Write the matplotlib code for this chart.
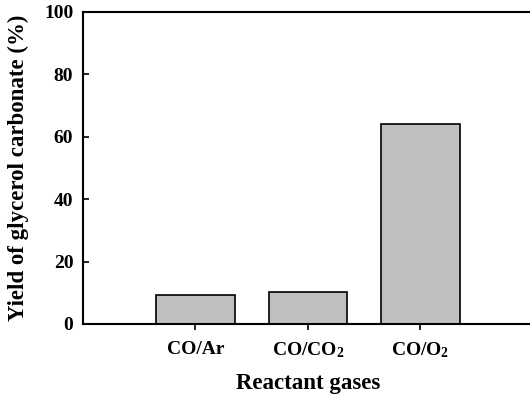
import matplotlib
matplotlib.use("Agg")
from matplotlib import pyplot as plt

# data
gases = ["CO/Ar", "CO/CO$_2$", "CO/O$_2$"]
yields = [9.2, 10.1, 64.0]
positions = [1, 2, 3]

plt.rcParams['font.family'] = ['Liberation Serif', 'DejaVu Serif']
plt.rcParams['font.weight'] = 'bold'
plt.rcParams['mathtext.fontset'] = 'custom'
plt.rcParams['mathtext.rm'] = 'Liberation Serif:bold'
plt.rcParams['mathtext.default'] = 'rm'

fig = plt.figure(figsize=(5.3, 3.98), dpi=100)
ax = fig.add_axes([0.1566, 0.186, 0.849, 0.784])

ax.bar(positions, yields, width=0.7, color='#c0c0c0', edgecolor='black', linewidth=1.2)

ax.set_xlim(0, 4)
ax.set_ylim(0, 100)
ax.set_yticks([0, 20, 40, 60, 80, 100])
ax.set_xticks(positions)
ax.set_xticklabels(gases)

for s in ['left', 'bottom', 'top']:
    ax.spines[s].set_linewidth(1.5)
ax.spines['right'].set_visible(False)

ax.tick_params(axis='y', direction='in', length=4, width=1.2, labelsize=14, pad=7)
ax.tick_params(axis='x', direction='out', length=4, width=1.2, labelsize=14, pad=8)
for lab in ax.get_xticklabels() + ax.get_yticklabels():
    lab.set_fontweight('bold')

ax.set_xlabel("Reactant gases", fontsize=16.5, fontweight='bold', labelpad=9)
ax.set_ylabel("Yield of glycerol carbonate (%)", fontsize=16.5, fontweight='bold', labelpad=11)

fig.savefig("out.png", dpi=100)
